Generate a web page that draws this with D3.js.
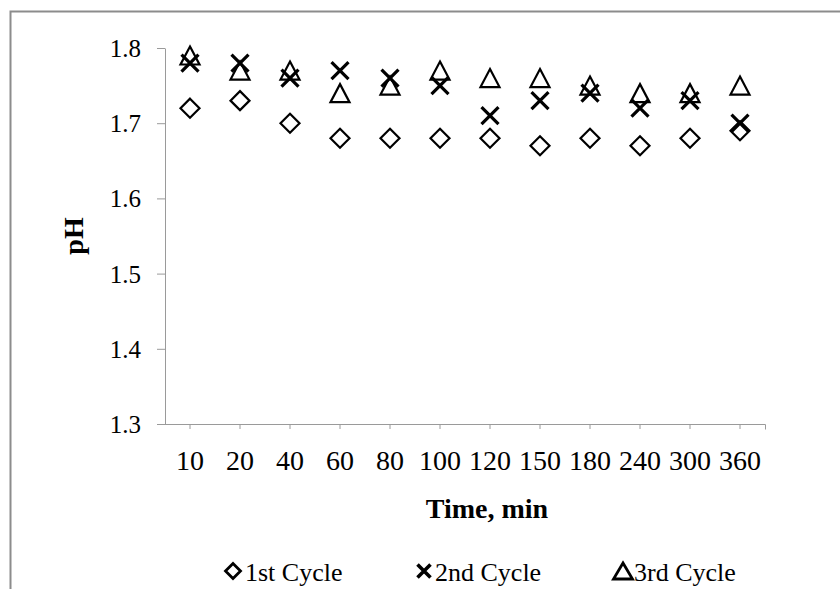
<!DOCTYPE html>
<html>
<head>
<meta charset="utf-8">
<script src="https://cdn.jsdelivr.net/npm/d3@7"></script>
<style>
  html, body { margin: 0; padding: 0; background: #fff; }
  svg { display: block; }
  text { font-family: "Liberation Serif", "Times New Roman", serif; fill: #000; }
</style>
</head>
<body>
<svg id="chart" width="840" height="589"></svg>
<script>
// Sampling times (min), shown as evenly spaced categories
const times = ["10", "20", "40", "60", "80", "100", "120", "150", "180", "240", "300", "360"];

// pH readings for each regeneration cycle
const cycle1 = [1.72, 1.73, 1.70, 1.68, 1.68, 1.68, 1.68, 1.67, 1.68, 1.67, 1.68, 1.69];
const cycle2 = [1.78, 1.78, 1.76, 1.77, 1.76, 1.75, 1.71, 1.73, 1.74, 1.72, 1.73, 1.70];
const cycle3 = [1.79, 1.77, 1.77, 1.74, 1.75, 1.77, 1.76, 1.76, 1.75, 1.74, 1.74, 1.75];

const yTicks = [1.3, 1.4, 1.5, 1.6, 1.7, 1.8];
const seriesNames = ["1st Cycle", "2nd Cycle", "3rd Cycle"];

const svg = d3.select("#chart");
const axisColor = "#9a9a9a";

// outer chart frame
svg.append("rect")
  .attr("x", 10.5).attr("y", 11.5)
  .attr("width", 900).attr("height", 700)
  .attr("fill", "none").attr("stroke", "#8c8c8c").attr("stroke-width", 2);

const plot = { left: 165, right: 765, top: 48, bottom: 424 };

const x = d3.scaleBand().domain(times).range([plot.left, plot.right]);
const xc = t => x(t) + x.bandwidth() / 2;
const y = d3.scaleLinear().domain([1.3, 1.8]).range([plot.bottom, plot.top]);

// y axis
const yAxis = d3.axisLeft(y).tickValues(yTicks).tickFormat(d3.format(".1f"))
  .tickSize(8).tickSizeOuter(0).tickPadding(16);
const gy = svg.append("g").attr("transform", `translate(${plot.left},0)`).call(yAxis);
gy.select(".domain").attr("stroke", axisColor);
gy.selectAll(".tick line").attr("stroke", axisColor);
gy.selectAll(".tick text")
  .attr("font-family", "Liberation Serif, serif")
  .attr("font-size", 25).attr("fill", "#000").attr("dy", "0.34em");

// x axis: ticks at category centres, plus a closing tick at the right end
const xAxis = d3.axisBottom(x).tickSize(5).tickSizeOuter(0).tickPadding(21);
const gx = svg.append("g").attr("transform", `translate(0,${plot.bottom})`).call(xAxis);
gx.select(".domain").remove();
gx.selectAll(".tick line").attr("stroke", axisColor);
gx.selectAll(".tick text")
  .attr("font-family", "Liberation Serif, serif")
  .attr("font-size", 28).attr("fill", "#000").attr("dy", "0.71em");
gx.append("path")
  .attr("d", `M${plot.left},0.5H${plot.right + 0.5}V5.5`)
  .attr("fill", "none").attr("stroke", axisColor);

// axis titles
svg.append("text")
  .attr("x", 487).attr("y", 518)
  .attr("text-anchor", "middle")
  .attr("font-size", 28).attr("font-weight", "bold")
  .text("Time, min");

svg.append("text")
  .attr("transform", "translate(83,236) rotate(-90)")
  .attr("text-anchor", "middle")
  .attr("font-size", 28).attr("font-weight", "bold")
  .text("pH");

// marker shapes
function diamondPath(r) { return `M0,${-r}L${r},0L0,${r}L${-r},0Z`; }
function crossPath(r) { return `M${-r},${-r}L${r},${r}M${-r},${r}L${r},${-r}`; }
function trianglePath(w, h) { return `M0,${-h / 2}L${w / 2},${h / 2}L${-w / 2},${h / 2}Z`; }

const markers = [
  { data: cycle1, d: diamondPath(9.5), sw: 2.2 },
  { data: cycle2, d: crossPath(8.5), sw: 3.2 },
  { data: cycle3, d: trianglePath(19, 18), sw: 2.2 }
];

markers.forEach(m => {
  svg.append("g").selectAll("path")
    .data(m.data)
    .join("path")
    .attr("transform", (v, i) => `translate(${xc(times[i])},${y(v)})`)
    .attr("d", m.d)
    .attr("fill", "none")
    .attr("stroke", "#000")
    .attr("stroke-width", m.sw)
    .attr("stroke-linejoin", "miter");
});

// legend
const legendItems = [
  { name: seriesNames[0], mx: 233, d: diamondPath(7.5), sw: 2.8, tx: 245 },
  { name: seriesNames[1], mx: 424, d: crossPath(6.5), sw: 3.6, tx: 435 },
  { name: seriesNames[2], mx: 623, d: trianglePath(19, 16), sw: 2.8, tx: 634 }
];
const legendY = 571;
const lg = svg.append("g");
legendItems.forEach(it => {
  lg.append("path")
    .attr("transform", `translate(${it.mx},${legendY})`)
    .attr("d", it.d).attr("fill", "none").attr("stroke", "#000")
    .attr("stroke-width", it.sw);
  lg.append("text")
    .attr("x", it.tx).attr("y", legendY + 10)
    .attr("font-size", 26)
    .text(it.name);
});
</script>
</body>
</html>
